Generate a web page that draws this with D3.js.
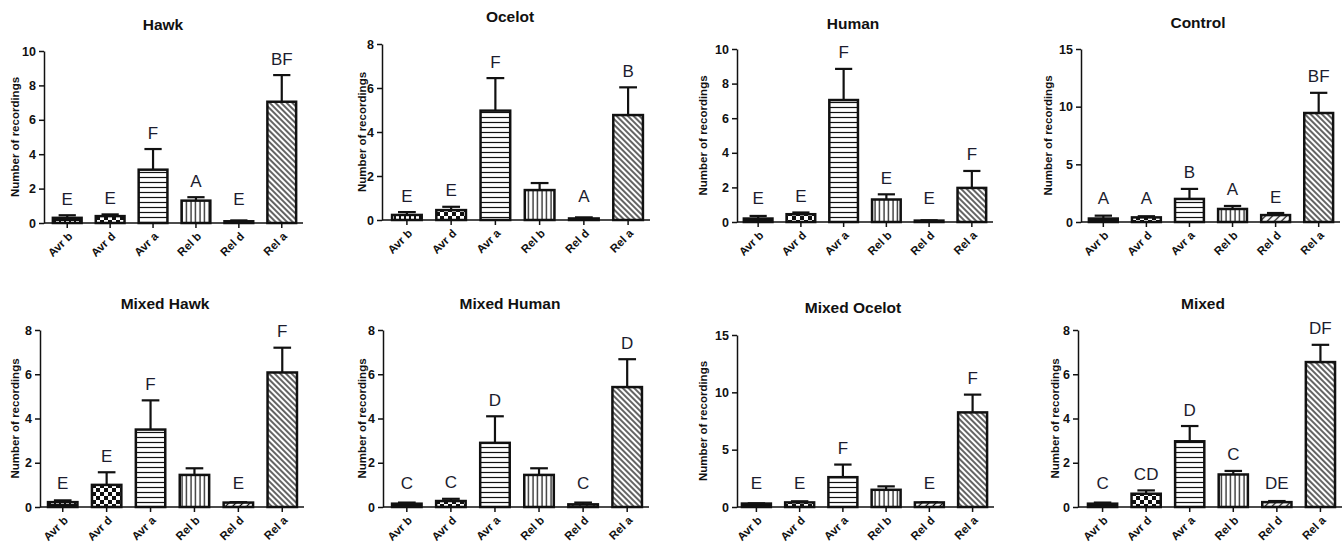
<!DOCTYPE html>
<html>
<head>
<meta charset="utf-8">
<script src="https://cdnjs.cloudflare.com/ajax/libs/d3/7.8.5/d3.min.js"></script>
<style>
  body { margin: 0; background: #fff; }
  svg { display: block; font-family: "Liberation Sans", Arial, sans-serif; }
</style>
</head>
<body>
<svg id="chart" width="1344" height="547"></svg>
<script>
// bar groups, same in every panel
const categories = ["Avr b", "Avr d", "Avr a", "Rel b", "Rel d", "Rel a"]
const titles = ["Hawk", "Ocelot", "Human", "Control", "Mixed Hawk", "Mixed Human", "Mixed Ocelot", "Mixed"]

// means, SEM (upper error only) and letters
const hawkMeans = [0.3, 0.4, 3.1, 1.3, 0.1, 7.05]
const hawkSem = [0.15, 0.1, 1.2, 0.2, 0.05, 1.55]
const hawkLetters = ["E", "E", "F", "A", "E", "BF"]

const ocelotMeans = [0.23, 0.45, 4.97, 1.36, 0.07, 4.77]
const ocelotSem = [0.13, 0.15, 1.48, 0.32, 0.05, 1.26]
const ocelotLetters = ["E", "E", "F", "", "A", "B"]

const humanMeans = [0.2, 0.45, 7.05, 1.3, 0.08, 1.97]
const humanSem = [0.15, 0.1, 1.8, 0.3, 0.02, 0.98]
const humanLetters = ["E", "E", "F", "E", "E", "F"]

const controlMeans = [0.3, 0.4, 2.0, 1.13, 0.6, 9.45]
const controlSem = [0.25, 0.1, 0.87, 0.26, 0.18, 1.75]
const controlLetters = ["A", "A", "B", "A", "E", "BF"]

const mixedHawkMeans = [0.22, 1.0, 3.5, 1.45, 0.2, 6.08]
const mixedHawkSem = [0.08, 0.57, 1.32, 0.3, 0.02, 1.12]
const mixedHawkLetters = ["E", "E", "F", "", "E", "F"]

const mixedHumanMeans = [0.15, 0.27, 2.9, 1.45, 0.12, 5.42]
const mixedHumanSem = [0.05, 0.1, 1.2, 0.3, 0.08, 1.26]
const mixedHumanLetters = ["C", "C", "D", "", "C", "D"]

const mixedOcelotMeans = [0.3, 0.4, 2.6, 1.5, 0.4, 8.25]
const mixedOcelotSem = [0.02, 0.1, 1.1, 0.3, 0.02, 1.55]
const mixedOcelotLetters = ["E", "E", "F", "", "E", "F"]

const mixedMeans = [0.15, 0.6, 2.97, 1.47, 0.22, 6.55]
const mixedSem = [0.05, 0.15, 0.69, 0.16, 0.05, 0.78]
const mixedLetters = ["C", "CD", "D", "C", "DE", "DF"]

// y axis maximum and tick step per panel
const yMax = [10, 8, 10, 15, 8, 8, 15, 8]
const yStep = [2, 2, 2, 5, 2, 2, 5, 2]

const allMeans = [hawkMeans, ocelotMeans, humanMeans, controlMeans, mixedHawkMeans, mixedHumanMeans, mixedOcelotMeans, mixedMeans]
const allSem = [hawkSem, ocelotSem, humanSem, controlSem, mixedHawkSem, mixedHumanSem, mixedOcelotSem, mixedSem]
const allLetters = [hawkLetters, ocelotLetters, humanLetters, controlLetters, mixedHawkLetters, mixedHumanLetters, mixedOcelotLetters, mixedLetters]

// panel placement on the page
const layout = [
    {ax: 44, x0: 46, x1: 303, top: 51, base: 223, lx: 15, tx: 163, ty: 25},
    {ax: 382, x0: 385, x1: 650, top: 44, base: 220, lx: 362, tx: 510, ty: 17},
    {ax: 737, x0: 737, x1: 993, top: 49, base: 222, lx: 703, tx: 853, ty: 24},
    {ax: 1081, x0: 1082, x1: 1340, top: 49, base: 222, lx: 1048, tx: 1198, ty: 23},
    {ax: 40, x0: 41, x1: 304, top: 330, base: 507, lx: 15, tx: 165, ty: 304},
    {ax: 383, x0: 385, x1: 649, top: 330, base: 507, lx: 362, tx: 510, ty: 304},
    {ax: 737, x0: 735, x1: 994, top: 335, base: 507, lx: 703, tx: 853, ty: 308},
    {ax: 1078, x0: 1081, x1: 1342, top: 330, base: 507, lx: 1055, tx: 1203, ty: 304}
]

const patternIds = ["p-avrb", "p-avrd", "p-avra", "p-relb", "p-reld", "p-rela"]
const ink = "#111"

const svg = d3.select('#chart')
const defs = svg.append('defs')

// fill patterns
let p = defs.append('pattern').attr('id', 'p-avrb').attr('patternUnits', 'userSpaceOnUse').attr('width', 5).attr('height', 5)
p.append('rect').attr('width', 5).attr('height', 5).attr('fill', ink)
p.append('rect').attr('x', 1).attr('y', 1).attr('width', 3).attr('height', 3).attr('fill', '#fff')

p = defs.append('pattern').attr('id', 'p-avrd').attr('patternUnits', 'userSpaceOnUse').attr('width', 8).attr('height', 8)
p.append('rect').attr('width', 8).attr('height', 8).attr('fill', '#fff')
p.append('rect').attr('width', 4).attr('height', 4).attr('fill', ink)
p.append('rect').attr('x', 4).attr('y', 4).attr('width', 4).attr('height', 4).attr('fill', ink)

p = defs.append('pattern').attr('id', 'p-avra').attr('patternUnits', 'userSpaceOnUse').attr('width', 6).attr('height', 5)
p.append('rect').attr('width', 6).attr('height', 5).attr('fill', '#fff')
p.append('line').attr('x1', 0).attr('x2', 6).attr('y1', 2.5).attr('y2', 2.5).attr('stroke', ink).attr('stroke-width', 1.2)

p = defs.append('pattern').attr('id', 'p-relb').attr('patternUnits', 'userSpaceOnUse').attr('width', 4.5).attr('height', 6)
p.append('rect').attr('width', 4.5).attr('height', 6).attr('fill', '#fff')
p.append('line').attr('y1', 0).attr('y2', 6).attr('x1', 2).attr('x2', 2).attr('stroke', ink).attr('stroke-width', 1.2)

p = defs.append('pattern').attr('id', 'p-reld').attr('patternUnits', 'userSpaceOnUse').attr('width', 5).attr('height', 5)
    .attr('patternTransform', 'rotate(45)')
p.append('rect').attr('width', 5).attr('height', 5).attr('fill', '#fff')
p.append('line').attr('y1', 0).attr('y2', 5).attr('x1', 2.5).attr('x2', 2.5).attr('stroke', ink).attr('stroke-width', 1.3)

p = defs.append('pattern').attr('id', 'p-rela').attr('patternUnits', 'userSpaceOnUse').attr('width', 4).attr('height', 4)
    .attr('patternTransform', 'rotate(-45)')
p.append('rect').attr('width', 4).attr('height', 4).attr('fill', '#fff')
p.append('line').attr('y1', 0).attr('y2', 4).attr('x1', 2).attr('x2', 2).attr('stroke', ink).attr('stroke-width', 1.3)

titles.forEach((title, k) => {
    const L = layout[k]
    const means = allMeans[k]
    const sem = allSem[k]
    const letters = allLetters[k]
    const g = svg.append('g')

    const x = d3.scaleBand().domain(categories).range([L.x0, L.x1]).paddingInner(0.33).paddingOuter(0.16)
    const y = d3.scaleLinear().domain([0, yMax[k]]).range([L.base, L.top])
    const bw = x.bandwidth()

    // title
    g.append('text').text(title)
        .attr('x', L.tx).attr('y', L.ty + 5)
        .attr('text-anchor', 'middle').attr('font-size', 15.5).attr('font-weight', 'bold').attr('fill', ink)

    // y axis
    const ticks = d3.range(0, yMax[k] + 0.001, yStep[k])
    const yAxis = g.append('g').attr('transform', `translate(${L.ax},0)`)
        .call(d3.axisLeft(y).tickValues(ticks).tickSize(5).tickSizeOuter(0).tickPadding(3))
    yAxis.select('.domain').attr('stroke', ink).attr('stroke-width', 1.5)
    yAxis.selectAll('.tick line').attr('stroke', ink).attr('stroke-width', 1.5)
    yAxis.selectAll('.tick text').attr('font-size', 12.5).attr('font-weight', 'bold').attr('fill', ink)
        .attr('font-family', '"Liberation Sans", Arial, sans-serif')

    g.append('text').text('Number of recordings')
        .attr('transform', `translate(${L.lx},${(L.top + L.base) / 2}) rotate(-90)`)
        .attr('text-anchor', 'middle').attr('dominant-baseline', 'central')
        .attr('font-size', 11.5).attr('font-weight', 'bold').attr('fill', ink)

    // error bars (upper only), drawn under the bars
    const err = g.append('g').selectAll('g').data(categories).enter().append('g')
    err.append('line')
        .attr('x1', d => x(d) + bw / 2).attr('x2', d => x(d) + bw / 2)
        .attr('y1', (d, i) => y(means[i])).attr('y2', (d, i) => y(means[i] + sem[i]))
        .attr('stroke', ink).attr('stroke-width', 2.2)
    err.append('line')
        .attr('x1', d => x(d) + bw * 0.2).attr('x2', d => x(d) + bw * 0.8)
        .attr('y1', (d, i) => y(means[i] + sem[i])).attr('y2', (d, i) => y(means[i] + sem[i]))
        .attr('stroke', ink).attr('stroke-width', 2.2)

    // bars
    g.append('g').selectAll('rect').data(categories).enter().append('rect')
        .attr('x', d => x(d)).attr('width', bw)
        .attr('y', (d, i) => y(means[i])).attr('height', (d, i) => L.base - y(means[i]))
        .attr('fill', (d, i) => `url(#${patternIds[i]})`)
        .attr('stroke', ink).attr('stroke-width', 2.5)

    // x axis
    g.append('line').attr('x1', L.ax).attr('x2', L.x1).attr('y1', L.base).attr('y2', L.base)
        .attr('stroke', ink).attr('stroke-width', 1.5)
    const xAxis = g.append('g').attr('transform', `translate(0,${L.base})`)
        .call(d3.axisBottom(x).tickSize(5).tickSizeOuter(0))
    xAxis.select('.domain').remove()
    xAxis.selectAll('.tick line').attr('stroke', ink).attr('stroke-width', 1.5)
    xAxis.selectAll('.tick text')
        .attr('font-size', 11.5).attr('font-weight', 'bold').attr('fill', ink)
        .attr('font-family', '"Liberation Sans", Arial, sans-serif')
        .attr('text-anchor', 'end').attr('dy', null).attr('y', 0)
        .attr('transform', 'translate(6,14) rotate(-45)')

    // significance letters
    g.append('g').selectAll('text').data(categories).enter().append('text')
        .text((d, i) => letters[i])
        .attr('x', d => x(d) + bw / 2)
        .attr('y', (d, i) => Math.min(y(means[i] + sem[i]) - 16, L.base - 24))
        .attr('text-anchor', 'middle').attr('dominant-baseline', 'central')
        .attr('font-size', 17).attr('fill', '#1c1c2e')
})
</script>
</body>
</html>
